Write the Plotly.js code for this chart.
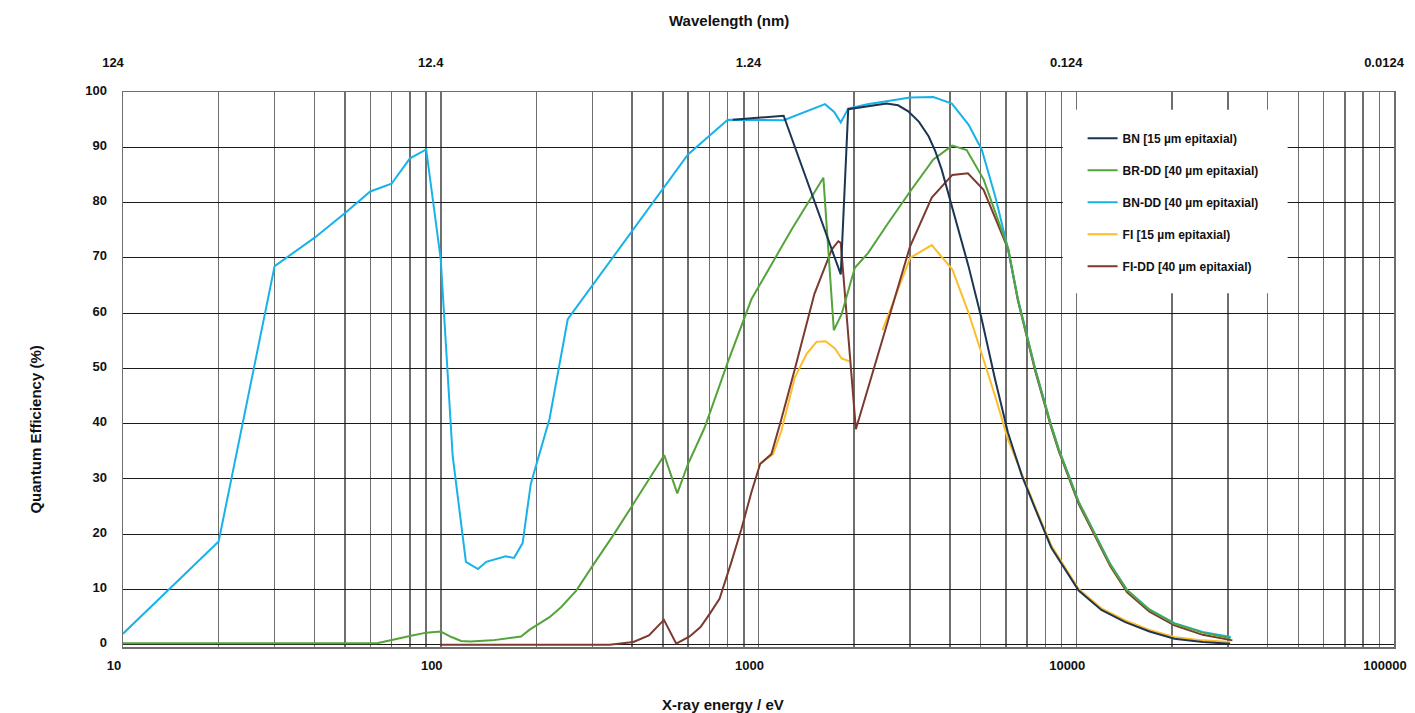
<!DOCTYPE html>
<html><head><meta charset="utf-8">
<script src="https://cdn.plot.ly/plotly-3.0.1.min.js"></script>
<style>html,body{margin:0;padding:0;background:#fff}#chart{width:1415px;height:713px}</style>
</head><body><div id="chart"></div>
<script>
// ---- data (X-ray energy in eV, quantum efficiency in %) ----
const bnEnergy  = [830, 1200, 1815, 1916, 2530, 2750, 2960, 3200, 3430, 3600, 3770, 4110, 4580, 5040, 5555, 6095, 6743, 7430, 8340, 10175, 12000, 14270, 17000, 20370, 25000, 30500];
const bnQE      = [95.0, 95.7, 67.0, 96.9, 97.9, 97.6, 96.5, 94.6, 92.0, 89.3, 86.0, 78.1, 68.5, 58.9, 48.0, 38.4, 30.6, 24.6, 17.6, 9.8, 6.3, 4.1, 2.4, 1.1, 0.5, 0.2];

const brddEnergy = [10, 63, 80, 90, 100, 108, 116, 124, 145, 179, 190, 202, 220, 239, 267, 303, 348, 404, 505, 555, 600, 677, 800, 950, 1270, 1600, 1726, 1826, 2010, 2215, 2560, 3035, 3550, 4070, 4520, 5110, 6120, 6550, 7430, 8340, 8800, 10175, 11490, 12800, 14460, 17000, 20370, 25000, 30600];
const brddQE     = [0.3, 0.3, 1.6, 2.2, 2.4, 1.4, 0.7, 0.6, 0.8, 1.5, 2.7, 3.6, 5.0, 6.8, 9.8, 14.6, 19.7, 25.5, 34.3, 27.4, 32.7, 39.3, 51.1, 62.5, 75.1, 84.5, 56.9, 59.8, 68.2, 70.9, 76.3, 82.4, 87.8, 90.3, 89.5, 84.2, 71.5, 62.5, 49.8, 39.6, 35.4, 25.8, 19.7, 14.5, 9.8, 6.3, 3.8, 2.2, 1.2];

const bnddEnergy = [10, 20, 30, 40, 50, 60, 70, 80, 90, 100, 109, 120, 131, 139, 160, 170, 181, 192, 220, 251, 600, 800, 1200, 1620, 1730, 1815, 1916, 2200, 2500, 3000, 3550, 4060, 4580, 5040, 5560, 6100, 6550, 7430, 8340, 8800, 10175, 11490, 12800, 14460, 17000, 20370, 25000, 30600];
const bnddQE     = [2.0, 18.7, 68.5, 73.6, 78.1, 82.0, 83.4, 88.0, 89.6, 69.7, 34.2, 15.0, 13.7, 15.0, 16.0, 15.7, 18.4, 29.1, 40.9, 58.9, 88.7, 95.0, 94.9, 97.8, 96.4, 94.5, 97.0, 97.8, 98.3, 99.0, 99.1, 97.9, 94.1, 89.6, 81.1, 71.6, 62.6, 49.9, 39.7, 35.5, 25.9, 19.8, 14.6, 9.9, 6.4, 3.9, 2.3, 1.4];

const fiEnergy = [1000, 1112, 1180, 1300, 1416, 1522, 1626, 1739, 1826, 1931, 2200, 2455, 3000, 3510, 4074, 4580, 5108, 5555, 6093, 6743, 7430, 8340, 10175, 12000, 14270, 17000, 20370, 25000, 30500];
const fiQE     = [32.6, 34.5, 38.7, 48.3, 52.6, 54.8, 54.9, 53.6, 51.8, 51.3, null, 56.9, 70.0, 72.3, 67.9, 60.1, 51.7, 45.0, 37.2, 30.8, 24.9, 18.0, 10.1, 6.6, 4.4, 2.7, 1.4, 0.8, 0.5];

const fiddEnergy = [100, 340, 404, 452, 504, 551, 607, 657, 702, 754, 821, 883, 950, 1012, 1098, 1180, 1300, 1500, 1700, 1783, 1815, 2025, 3000, 3510, 4074, 4560, 5108, 6100, 6550, 7430, 8340, 8800, 10175, 11490, 12800, 14460, 17000, 20370, 25000, 31000];
const fiddQE     = [0, 0, 0.5, 1.7, 4.5, 0.2, 1.5, 3.2, 5.6, 8.3, 14.9, 20.9, 27.6, 32.7, 34.5, 40.8, 49.8, 63.5, 71.5, 73.0, 72.7, 39.0, 72.1, 80.9, 85.0, 85.3, 82.3, 71.6, 62.3, 49.5, 39.3, 35.1, 25.5, 19.4, 14.2, 9.5, 6.0, 3.5, 1.8, 0.8];

const seriesNames = ["BN [15 µm epitaxial)", "BR-DD [40 µm epitaxial)", "BN-DD [40 µm epitaxial)", "FI [15 µm epitaxial)", "FI-DD [40 µm epitaxial)"];
const seriesColors = ["#1c3553", "#55a33b", "#18b2ea", "#fdbd2a", "#7b3a30"];

// ---- axis ticks ----
const energyDecades = [10, 100, 1000, 10000, 100000];
const energyLabels = ["10", "100", "1000", "10000", "100000"];
const wavelengthLabels = ["124", "12.4", "1.24", "0.124", "0.0124"];
const qeTicks = [0, 10, 20, 30, 40, 50, 60, 70, 80, 90, 100];

// gridline positions at every 1..9 x decade
const energyGrid = [];
const energyGridText = [];
for (let d = 0; d < energyDecades.length; d++) {
  for (let m = 1; m <= 9; m++) {
    if (d === energyDecades.length - 1 && m > 1) break;
    energyGrid.push(energyDecades[d] * m);
    energyGridText.push(m === 1 ? energyLabels[d] : "");
  }
}

const FONT = "Liberation Sans, Arial, Helvetica, sans-serif";

function tr(x, y, i, rank) {
  return {
    x: x, y: y, type: "scatter", mode: "lines", name: seriesNames[i],
    line: {color: seriesColors[i], width: 2}, connectgaps: false,
    legendgroup: "g" + i, legendrank: rank, hoverinfo: "x+y+name"
  };
}

// draw order (back to front): FI, FI-DD, BN-DD, BR-DD, BN
const data = [
  tr(fiEnergy, fiQE, 3, 4),
  tr(fiddEnergy, fiddQE, 4, 5),
  tr(bnddEnergy, bnddQE, 2, 3),
  tr(brddEnergy, brddQE, 1, 2),
  tr(bnEnergy, bnQE, 0, 1),
  {x: bnddEnergy, y: bnddQE, xaxis: "x2", type: "scatter", mode: "lines",
   line: {width: 0, color: "rgba(0,0,0,0)"}, showlegend: false, hoverinfo: "skip"}
];

const layout = {
  width: 1415, height: 713,
  margin: {l: 123, r: 21, t: 92, b: 66},
  paper_bgcolor: "#fff", plot_bgcolor: "#fff",
  font: {family: FONT, size: 13, color: "#111", weight: 700},
  showlegend: true,
  legend: {
    x: 0.755, xanchor: "left", y: 0.943, yanchor: "top",
    bgcolor: "rgba(255,255,255,0)", borderwidth: 0,
    font: {family: FONT, size: 12, color: "#111", weight: 700},
    tracegroupgap: 13, traceorder: "grouped", itemwidth: 30
  },
  xaxis: {
    type: "log", range: [1, 5],
    tickmode: "array", tickvals: energyGrid, ticktext: energyGridText,
    showgrid: true, gridcolor: "#6e6e6e", gridwidth: 1.5,
    showline: true, linecolor: "#6e6e6e", linewidth: 1.5, mirror: true,
    ticks: "", ticklabelstandoff: 6, ticklabelshift: -9,
    tickfont: {family: FONT, size: 13, color: "#111", weight: 700},
    zeroline: false, fixedrange: true
  },
  xaxis2: {
    type: "log", range: [1, 5], overlaying: "x", side: "top",
    tickmode: "array", tickvals: energyDecades, ticktext: wavelengthLabels,
    showgrid: false, showline: false, ticks: "", ticklabelstandoff: 21, ticklabelshift: -10,
    tickfont: {family: FONT, size: 13, color: "#111", weight: 700},
    zeroline: false, fixedrange: true
  },
  yaxis: {
    range: [-0.4, 100], tickmode: "array", tickvals: qeTicks,
    showgrid: true, gridcolor: "#1a1a1a", gridwidth: 1,
    showline: true, linecolor: "#6e6e6e", linewidth: 1.5, mirror: true,
    ticks: "", ticklabelstandoff: 12, ticklabelshift: -2,
    tickfont: {family: FONT, size: 13, color: "#111", weight: 700},
    zeroline: false, fixedrange: true
  },
  shapes: [{
    type: "rect", xref: "paper", yref: "paper",
    x0: 0.7394, x1: 0.9163, y0: 0.6375, y1: 0.968,
    fillcolor: "#ffffff", line: {width: 0}, layer: "above"
  }],
  annotations: [
    {text: "Wavelength (nm)", xref: "paper", yref: "paper", x: (729 - 123) / 1271, y: (646 - 21) / 554,
     xanchor: "center", yanchor: "middle", showarrow: false,
     font: {family: FONT, size: 15, color: "#111", weight: 700}},
    {text: "X-ray energy / eV", xref: "paper", yref: "paper", x: (723 - 123) / 1271, y: (646 - 703) / 554,
     xanchor: "center", yanchor: "middle", showarrow: false,
     font: {family: FONT, size: 15, color: "#111", weight: 700}},
    {text: "Quantum Efficiency (%)", xref: "paper", yref: "paper", x: (36 - 123) / 1271, y: (646 - 429) / 554,
     xanchor: "center", yanchor: "middle", showarrow: false, textangle: -90,
     font: {family: FONT, size: 15, color: "#111", weight: 700}}
  ]
};

Plotly.newPlot("chart", data, layout, {displayModeBar: false, staticPlot: true});
</script>
</body></html>
